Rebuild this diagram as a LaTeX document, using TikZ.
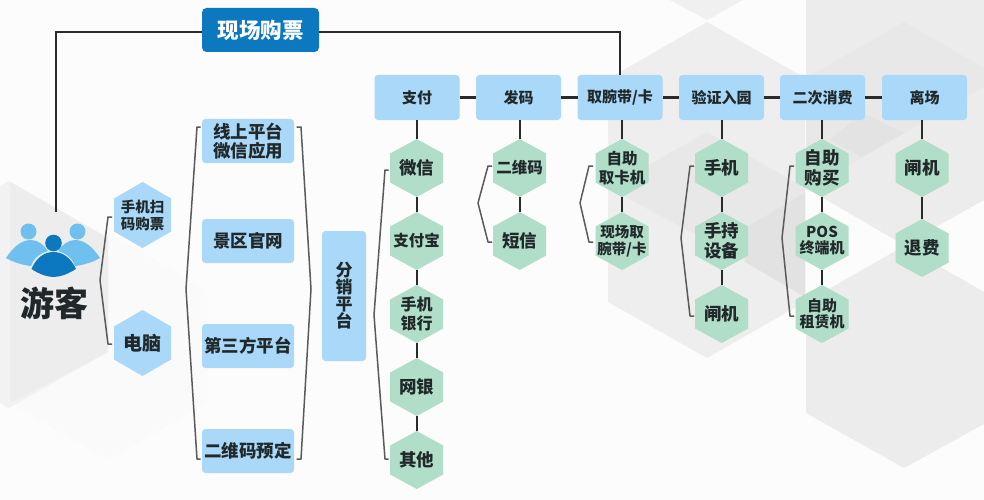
\documentclass[tikz,border=0pt]{standalone}
\usepackage{fontspec}
\setmainfont{Noto Sans CJK SC}
\usetikzlibrary{calc}
\newdimen\hxl \newdimen\hxr \newdimen\hxb \newdimen\hxt \newdimen\hxm \newdimen\hxu \newdimen\hxd
\makeatletter
\pgfdeclareshape{hexa}{
  \inheritsavedanchors[from=rectangle]
  \inheritanchorborder[from=rectangle]
  \inheritanchor[from=rectangle]{center}
  \inheritanchor[from=rectangle]{text}
  \inheritanchor[from=rectangle]{base}
  \inheritanchor[from=rectangle]{north}
  \inheritanchor[from=rectangle]{south}
  \inheritanchor[from=rectangle]{east}
  \inheritanchor[from=rectangle]{west}
  \backgroundpath{
    \southwest \hxl=\pgf@x \hxb=\pgf@y
    \northeast \hxr=\pgf@x \hxt=\pgf@y
    \hxm=.5\hxl \advance\hxm by .5\hxr
    \hxu=.75\hxt \advance\hxu by .25\hxb
    \hxd=.25\hxt \advance\hxd by .75\hxb
    \pgfpathmoveto{\pgfqpoint{\hxm}{\hxt}}
    \pgfpathlineto{\pgfqpoint{\hxr}{\hxu}}
    \pgfpathlineto{\pgfqpoint{\hxr}{\hxd}}
    \pgfpathlineto{\pgfqpoint{\hxm}{\hxb}}
    \pgfpathlineto{\pgfqpoint{\hxl}{\hxd}}
    \pgfpathlineto{\pgfqpoint{\hxl}{\hxu}}
    \pgfpathclose
  }
}
\makeatother
\definecolor{blueL}{HTML}{A9D8F8}
\definecolor{blueD}{HTML}{0B78C0}
\definecolor{blueM}{HTML}{6FBFEF}
\definecolor{greenH}{HTML}{B1DEC8}
\definecolor{txt}{HTML}{20282A}
\definecolor{ln}{HTML}{2A2A2A}
\definecolor{br}{HTML}{5A5A5A}
\tikzset{
  tA/.style={font=\bfseries\fontsize{14.5}{17}\selectfont},
  tB/.style={font=\bfseries\fontsize{15.5}{18.5}\selectfont},
  tC/.style={font=\bfseries\fontsize{17.5}{19.5}\selectfont},
  tD/.style={font=\bfseries\fontsize{15}{17}\selectfont},
  nodebase/.style={inner sep=0pt,outer sep=0pt,align=center,text=txt},
  boxb/.style={nodebase,fill=blueL,rounded corners=3.5pt,minimum width=85pt,minimum height=45pt,tD},
  boxs/.style={nodebase,fill=blueL,rounded corners=3.5pt,minimum width=92pt,minimum height=44pt,tC},
  hexb/.style={nodebase,shape=hexa,fill=blueL,minimum width=57pt,minimum height=66pt},
  hexg/.style={nodebase,shape=hexa,fill=greenH,minimum width=53pt,minimum height=58pt},
  conn/.style={draw=ln,line width=2.2pt},
  brk/.style={draw=br,line width=1.5pt,line join=round}
}
\begin{document}
\begin{tikzpicture}[x=1pt,y=-1pt]
\useasboundingbox (0,0) rectangle (984,500);
\fill[white!99!black] (0,0) rectangle (984,500);
% background: left
\fill[black!1.8] (108,233) -- (207,290) -- (207,403) -- (108,460) -- (10,403) -- (10,290) -- cycle;
\fill[black!5] (0,186) -- (9,181) -- (108,238) -- (108,352) -- (9,408) -- (0,403) -- cycle;
\fill[black!7] (10,182) -- (108,238) -- (108,352) -- (10,403) -- cycle;
% background: centre
\fill[black!6] (670,0) -- (707,20) -- (743,0) -- cycle;
\fill[black!6.5] (707,22) -- (805,78) -- (805,302) -- (707,358) -- (608,302) -- (608,79) -- cycle;
\fill[black!9] (608,188) -- (707,132) -- (805,188) -- (805,293) -- cycle;
\fill[black!11.5] (805,193) -- (745,228) -- (745,262) -- (805,297) -- cycle;
% background: right
\fill[black!7.5] (806,0) -- (984,0) -- (984,200) -- (904,245) -- (806,188) -- cycle;
\fill[black!7.5] (806,302) -- (904,246) -- (984,292) -- (984,424) -- (904,468) -- (806,413) -- cycle;
\fill[black!9] (806,78) -- (904,22) -- (984,68) -- (984,87) -- (904,133) -- (806,190) -- cycle;
\fill[black!11] (862,113) -- (904,133) -- (862,157) -- (830,140) -- cycle;

% person icon
\fill[blueM] (28.5,231.5) circle (8);
\fill[blueM] (77.5,231.5) circle (8);
\fill[blueM] (6,258) .. controls (14,246) and (22,240) .. (31,240) .. controls (38,240) and (44,245) .. (48,251) .. controls (38,254) and (33,260) .. (31,266) .. controls (22,265) and (13,262) .. (6,258) -- cycle;
\fill[blueM] (100,258) .. controls (92,246) and (84,240) .. (75,240) .. controls (68,240) and (62,245) .. (58,251) .. controls (68,254) and (73,260) .. (75,266) .. controls (84,265) and (93,262) .. (100,258) -- cycle;
\fill[blueD] (53.5,243) circle (8.3);
\fill[blueD] (31.5,269) .. controls (36,258) and (44,252) .. (53.5,252) .. controls (63,252) and (71,258) .. (76,269) .. controls (68,274) and (60,277) .. (53.5,277) .. controls (47,277) and (39,274) .. (31.5,269) -- cycle;

% nodes
\node[nodebase,fill=blueD,rounded corners=4.5pt,minimum width=117pt,minimum height=44pt,text=white,font=\bfseries\fontsize{21.5}{24}\selectfont] (ticket) at (260.5,30) {现场购票};
\coordinate (usertop) at (56,212);
\node[nodebase,font=\bfseries\fontsize{34}{38}\selectfont] (youke) at (54,303) {游客};

\node[hexb,tA] (scan) at (142.5,215) {手机扫\\码购票};
\node[hexb,font=\bfseries\fontsize{19}{22}\selectfont] (pc) at (142.5,343) {电脑};

\node[boxs] (online) at (248,141) {线上平台\\微信应用};
\node[boxs] (scenic) at (248,241) {景区官网};
\node[boxs] (third) at (248,346) {第三方平台};
\node[boxs] (qr) at (248,451) {二维码预定};
\node[nodebase,fill=blueL,rounded corners=3.5pt,minimum width=44pt,minimum height=130pt,font=\bfseries\fontsize{17}{17}\selectfont] (fenxiao) at (344,296) {分\\销\\平\\台};

\node[boxb] (pay) at (417,97.5) {支付};
\node[boxb] (code) at (518.5,97.5) {发码};
\node[boxb] (band) at (620,97.5) {取腕带/卡};
\node[boxb] (verify) at (721.5,97.5) {验证入园};
\node[boxb] (second) at (822.5,97.5) {二次消费};
\node[boxb] (leave) at (924.5,97.5) {离场};

\node[hexg,tC] (p1) at (416.7,168) {微信};
\node[hexg,tB] (p2) at (416.7,241) {支付宝};
\node[hexg,font=\bfseries\fontsize{16}{18.5}\selectfont] (p3) at (416.7,314) {手机\\银行};
\node[hexg,tC] (p4) at (416.7,387) {网银};
\node[hexg,tC] (p5) at (416.7,460) {其他};

\node[hexg,tB] (c1) at (519.7,168) {二维码};
\node[hexg,tC] (c2) at (519.7,241) {短信};

\node[hexg,tB] (b1) at (622,168) {自助\\取卡机};
\node[hexg,font=\bfseries\fontsize{14.5}{17.5}\selectfont] (b2) at (622,241) {现场取\\腕带/卡};

\node[hexg,tC] (v1) at (721.7,168) {手机};
\node[hexg,tC] (v2) at (721.7,241) {手持\\设备};
\node[hexg,tC] (v3) at (721.7,314) {闸机};

\node[hexg,tC] (s1) at (822,168) {自助\\购买};
\node[hexg,font=\bfseries\fontsize{15}{16}\selectfont] (s2) at (822,241) {POS\\终端机};
\node[hexg,font=\bfseries\fontsize{15}{16.5}\selectfont] (s3) at (822,314) {自助\\租赁机};

\node[hexg,tC] (l1) at (922,168) {闸机};
\node[hexg,tC] (l2) at (922,248) {退费};

% connectors
\draw[conn] ($(ticket.west)+(0,2)$) -| (usertop);
\draw[conn] ($(ticket.east)+(0,2)$) -| (band.north);
\foreach \a/\b in {pay/code,code/band,band/verify,verify/second,second/leave}
  \draw[conn] (\a.east) -- (\b.west);
\foreach \a/\b in {pay/p1,code/c1,band/b1,verify/v1,second/s1,leave/l1}
  \draw[conn] (\b.north) -- (\b.north |- \a.south);
\foreach \a/\b in {p1/p2,p2/p3,p3/p4,p4/p5,c1/c2,b1/b2,v1/v2,v2/v3,s1/s2,s2/s3,l1/l2}
  \draw[conn] (\a.south) -- (\b.north);

% brackets
\coordinate (qa) at (112,217); \coordinate (qb) at (112,344);
\draw[brk] (qa) -- (108,217) -- (100,280) -- (108,344) -- (qb);
\coordinate (la) at (200.5,127); \coordinate (lb) at (200.5,459);
\draw[brk] (la) -- (197,127) -- (186,289) -- (197,459) -- (lb);
\coordinate (ra) at (296.5,127); \coordinate (rb) at (296.5,459);
\draw[brk] (ra) -- (301,127) -- (311,289) -- (301,459) -- (rb);
\coordinate (pa) at (388.5,170); \coordinate (pb) at (388.5,459);
\draw[brk] (pa) -- (385,170) -- (374,315) -- (385,459) -- (pb);
\coordinate (ca) at (492,166); \coordinate (cb) at (492,242);
\draw[brk] (ca) -- (488,166) -- (478,203) -- (488,242) -- (cb);
\coordinate (ba) at (593,166); \coordinate (bb) at (593,242);
\draw[brk] (ba) -- (589,166) -- (580,203) -- (589,242) -- (bb);
\coordinate (va) at (694,166); \coordinate (vb) at (694,316);
\draw[brk] (va) -- (690,166) -- (681,238) -- (690,316) -- (vb);
\coordinate (sa) at (794,166); \coordinate (sb) at (794,316);
\draw[brk] (sa) -- (790,166) -- (782,238) -- (790,316) -- (sb);
\end{tikzpicture}
\end{document}
